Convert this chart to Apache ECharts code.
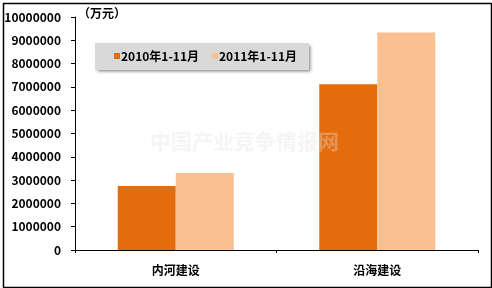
<!DOCTYPE html>
<html><head><meta charset="utf-8">
<script src="https://cdn.jsdelivr.net/npm/echarts@6/dist/echarts.min.js"></script>
<style>html,body{margin:0;padding:0;background:#fff}#c{width:492px;height:288px}</style>
</head><body><div id="c"></div>
<script>
var categories = ['内河建设', '沿海建设'];
var seriesNames = ['2010年1-11月', '2011年1-11月'];
var values2010 = [2750000, 7110000];
var values2011 = [3310000, 9340000];
var unitLabel = '（万元）';
var watermark = '中国产业竞争情报网';

var FONT = '"Noto Sans CJK SC", sans-serif';
var chart = echarts.init(document.getElementById('c'), null, {renderer: 'canvas'});
chart.setOption({
  animation: false,
  backgroundColor: '#fff',
  grid: {left: 75, right: 14, top: 17, bottom: 38, containLabel: false},
  legend: {
    left: 95, top: 43,
    backgroundColor: '#d9d9d9',
    padding: [7, 12, 8, 19],
    shadowColor: 'rgba(0,0,0,0.45)', shadowBlur: 3, shadowOffsetX: 2, shadowOffsetY: 2,
    itemWidth: 6, itemHeight: 6, itemGap: 13,
    icon: 'rect',
    textStyle: {fontFamily: FONT, fontWeight: 'bold', fontSize: 12, color: '#000', padding: [0, 0, 0, -4]},
    data: seriesNames
  },
  xAxis: {
    type: 'category', data: categories,
    axisLine: {lineStyle: {color: '#000', width: 1}},
    axisTick: {show: true, length: 3, lineStyle: {color: '#000'}},
    axisLabel: {fontFamily: FONT, fontWeight: 'bold', fontSize: 12, color: '#000', margin: 14}
  },
  yAxis: {
    type: 'value', min: 0, max: 10000000, interval: 1000000,
    splitLine: {show: false},
    axisLine: {show: true, lineStyle: {color: '#000', width: 1}},
    axisTick: {show: true, length: 4, lineStyle: {color: '#000'}},
    axisLabel: {fontFamily: FONT, fontWeight: 'bold', fontSize: 12, color: '#000', margin: 14,
      formatter: function (v) { return String(v); }}
  },
  series: [
    {name: seriesNames[0], type: 'bar', data: values2010, barWidth: 58, barGap: '0%',
     itemStyle: {color: '#E46C0A'}},
    {name: seriesNames[1], type: 'bar', data: values2011, barWidth: 58, barGap: '0%',
     itemStyle: {color: '#FAC090'}}
  ],
  graphic: [
    {type: 'rect', left: 1, top: 1, z: 100, silent: true,
     shape: {width: 488, height: 284}, style: {fill: 'none', stroke: '#000', lineWidth: 1.5}},
    {type: 'text', left: 78, top: 7, z: 100,
     style: {text: unitLabel, fontFamily: FONT, fontWeight: 'bold', fontSize: 12, fill: '#000'}},
    {type: 'text', left: 150, top: 131, z: 100, silent: true,
     style: {text: watermark, fontFamily: FONT, fontWeight: 'bold', fontSize: 21, fill: 'rgba(225,225,225,0.35)'}}
  ]
});
</script></body></html>
